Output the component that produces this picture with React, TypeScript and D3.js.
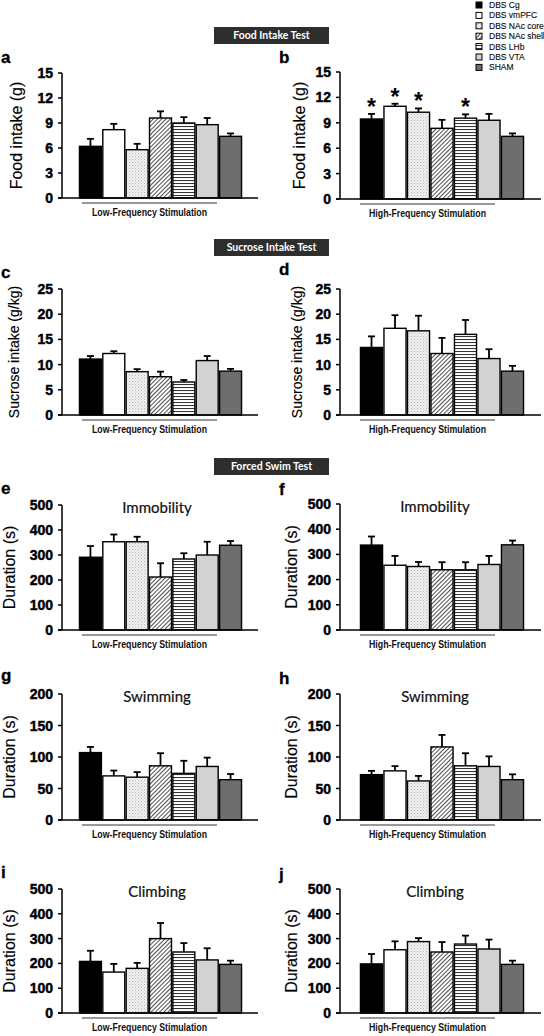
import React from "react";
import * as d3 from "d3";

const groups = ["DBS Cg", "DBS vmPFC", "DBS NAc core", "DBS NAc shell", "DBS LHb", "DBS VTA", "SHAM"];
const groupFills = ["#000000", "#ffffff", "url(#pDots)", "url(#pDiag)", "url(#pHoriz)", "#d2d2d2", "#6e6e6e"];

const foodLowMean = [6.2, 8.2, 5.8, 9.6, 9.0, 8.8, 7.4];
const foodLowSem = [0.9, 0.7, 0.7, 0.8, 0.7, 0.8, 0.35];
const foodHighMean = [9.45, 10.95, 10.25, 8.35, 9.55, 9.3, 7.4];
const foodHighSem = [0.6, 0.3, 0.45, 1.0, 0.45, 0.75, 0.35];
const foodHighSig = [true, true, true, false, true, false, false];

const sucroseLowMean = [11.1, 12.2, 8.6, 7.6, 6.55, 10.8, 8.7];
const sucroseLowSem = [0.6, 0.45, 0.5, 1.0, 0.4, 0.9, 0.45];
const sucroseHighMean = [13.4, 17.2, 16.7, 12.2, 16.0, 11.2, 8.7];
const sucroseHighSem = [2.2, 2.6, 3.0, 3.1, 2.85, 1.85, 1.05];

const immobLowMean = [291, 353, 353, 212, 284, 300, 339];
const immobLowSem = [45, 29, 20, 55, 23, 53, 17];
const immobHighMean = [337, 257, 252, 239, 239, 260, 338];
const immobHighSem = [34, 37, 18, 30, 30, 34, 17];

const swimLowMean = [107, 70, 68, 86, 74, 85, 64];
const swimLowSem = [9, 8.5, 8, 20, 20, 14, 9];
const swimHighMean = [72, 78, 62, 116, 86, 85, 64];
const swimHighSem = [6, 7.5, 8, 19, 20, 16, 8.5];

const climbLowMean = [208, 165, 180, 300, 246, 214, 196];
const climbLowSem = [43, 33, 22, 63, 36, 47, 15];
const climbHighMean = [198, 255, 288, 246, 278, 258, 196];
const climbHighSem = [40, 34, 14, 40, 34, 38, 15];

const foodTicks = [0, 3, 6, 9, 12, 15];
const sucroseTicks = [0, 5, 10, 15, 20, 25];
const durTicks = [0, 100, 200, 300, 400, 500];
const swimTicks = [0, 50, 100, 150, 200];

const sectionTitles = ["Food Intake Test", "Sucrose Intake Test", "Forced Swim Test"];
const lowLabel = "Low-Frequency Stimulation";
const highLabel = "High-Frequency Stimulation";

type Panel = {
  letter: string;
  mean: number[];
  sem: number[];
  sig?: boolean[];
  ticks: number[];
  yLabel: string;
  yLabelSize: number;
  title?: string;
  stim: string;
  side: 0 | 1;
  top: number;
  zero: number;
  letterY: number;
  yLabX: number;
};

const panels: Panel[] = [
  { letter: "a", mean: foodLowMean, sem: foodLowSem, ticks: foodTicks, yLabel: "Food intake (g)", yLabelSize: 16, stim: lowLabel, side: 0, top: 73, zero: 198, letterY: 63, yLabX: 22 },
  { letter: "b", mean: foodHighMean, sem: foodHighSem, sig: foodHighSig, ticks: foodTicks, yLabel: "Food intake (g)", yLabelSize: 16, stim: highLabel, side: 1, top: 72, zero: 199, letterY: 63, yLabX: 305 },
  { letter: "c", mean: sucroseLowMean, sem: sucroseLowSem, ticks: sucroseTicks, yLabel: "Sucrose intake (g/kg)", yLabelSize: 14, stim: lowLabel, side: 0, top: 289, zero: 415, letterY: 278, yLabX: 19 },
  { letter: "d", mean: sucroseHighMean, sem: sucroseHighSem, ticks: sucroseTicks, yLabel: "Sucrose intake (g/kg)", yLabelSize: 14, stim: highLabel, side: 1, top: 289, zero: 415, letterY: 275, yLabX: 302 },
  { letter: "e", mean: immobLowMean, sem: immobLowSem, ticks: durTicks, yLabel: "Duration (s)", yLabelSize: 16, title: "Immobility", stim: lowLabel, side: 0, top: 505, zero: 630, letterY: 494, yLabX: 15 },
  { letter: "f", mean: immobHighMean, sem: immobHighSem, ticks: durTicks, yLabel: "Duration (s)", yLabelSize: 16, title: "Immobility", stim: highLabel, side: 1, top: 504, zero: 630, letterY: 495, yLabX: 297 },
  { letter: "g", mean: swimLowMean, sem: swimLowSem, ticks: swimTicks, yLabel: "Duration (s)", yLabelSize: 16, title: "Swimming", stim: lowLabel, side: 0, top: 694, zero: 820, letterY: 681, yLabX: 15 },
  { letter: "h", mean: swimHighMean, sem: swimHighSem, ticks: swimTicks, yLabel: "Duration (s)", yLabelSize: 16, title: "Swimming", stim: highLabel, side: 1, top: 694, zero: 820, letterY: 684, yLabX: 297 },
  { letter: "i", mean: climbLowMean, sem: climbLowSem, ticks: durTicks, yLabel: "Duration (s)", yLabelSize: 16, title: "Climbing", stim: lowLabel, side: 0, top: 889, zero: 1013, letterY: 878, yLabX: 15 },
  { letter: "j", mean: climbHighMean, sem: climbHighSem, ticks: durTicks, yLabel: "Duration (s)", yLabelSize: 16, title: "Climbing", stim: highLabel, side: 1, top: 889, zero: 1013, letterY: 880, yLabX: 297 },
];

const sideLayout = [
  { axisX: 62, xEnd: 258, barL: 79, barR: 242, letterX: 1 },
  { axisX: 340, xEnd: 541, barL: 360, barR: 524, letterX: 279 },
];

const sectionBoxes = [
  { y: 27 },
  { y: 239 },
  { y: 458 },
];

const ARIAL = "Arial, 'Liberation Sans', Helvetica, sans-serif";
const LATO = "Lato, 'Open Sans', sans-serif";

function ChartPanel({ p }: { p: Panel }) {
  const L = sideLayout[p.side];
  const yMax = p.ticks[p.ticks.length - 1];
  const y = d3.scaleLinear().domain([0, yMax]).range([p.zero, p.top]);
  const x = d3.scaleBand<string>().domain(groups).range([L.barL, L.barR]).paddingInner(0.06).paddingOuter(0.02);
  const bw = x.bandwidth();
  const underL = L.axisX + 20;
  const underR = L.axisX + 155;
  const midY = (p.top + p.zero) / 2;
  return (
    <g>
      <text x={L.letterX} y={p.letterY} fontFamily={ARIAL} fontWeight="bold" fontSize={17} stroke="#000" strokeWidth={0.3}>{p.letter}</text>
      <text
        transform={`translate(${p.yLabX},${midY}) rotate(-90)`}
        textAnchor="middle"
        fontFamily={ARIAL}
        fontSize={p.yLabelSize}
        stroke="#000"
        strokeWidth={0.15}
      >{p.yLabel}</text>
      {p.title && (
        <text x={L.axisX + 95} y={p.top + 8} textAnchor="middle" fontFamily={LATO} fontSize={15} fill="#111" stroke="#111" strokeWidth={0.2}>{p.title}</text>
      )}
      {groups.map((g, i) => {
        const x0 = x(g) as number;
        const yTop = y(p.mean[i]);
        const yErr = y(p.mean[i] + p.sem[i]);
        const cx = x0 + bw / 2;
        return (
          <g key={g}>
            <line x1={cx} x2={cx} y1={yTop} y2={yErr} stroke="#000" strokeWidth={1.8} />
            <line x1={cx - 3.5} x2={cx + 3.5} y1={yErr} y2={yErr} stroke="#000" strokeWidth={1.8} />
            <rect x={x0} y={yTop} width={bw} height={p.zero - yTop} fill={groupFills[i]} stroke="#000" strokeWidth={1.4} />
            {p.sig && p.sig[i] && (
              <text x={cx} y={yErr + 1} textAnchor="middle" fontFamily={ARIAL} fontWeight="bold" fontSize={23}>*</text>
            )}
          </g>
        );
      })}
      {/* y axis */}
      <line x1={L.axisX} x2={L.axisX} y1={p.top} y2={p.zero} stroke="#000" strokeWidth={1.5} />
      {p.ticks.map((t) => (
        <g key={t}>
          <line x1={L.axisX - 4} x2={L.axisX} y1={y(t)} y2={y(t)} stroke="#000" strokeWidth={1.5} />
          <text x={L.axisX - 9} y={y(t) + 5} textAnchor="end" fontFamily={ARIAL} fontWeight="bold" fontSize={14} stroke="#000" strokeWidth={0.45}>{t}</text>
        </g>
      ))}
      {/* x axis */}
      <line x1={L.axisX - 4} x2={L.xEnd} y1={p.zero} y2={p.zero} stroke="#000" strokeWidth={1.5} />
      <line x1={underL} x2={underR} y1={p.zero + 5} y2={p.zero + 5} stroke="#333" strokeWidth={1} />
      <text
        x={(underL + underR) / 2}
        y={p.zero + 18}
        textAnchor="middle"
        fontFamily={ARIAL}
        fontWeight="bold"
        fontSize={10}
        textLength={p.side === 0 ? 115 : 117}
        lengthAdjust="spacingAndGlyphs"
        fill="#111"
      >{p.stim}</text>
    </g>
  );
}

export default function App() {
  return (
    <svg width={544} height={1036} style={{ position: "absolute", left: 0, top: 0, background: "#fff" }}>
      <defs>
        <pattern id="pDots" width={3} height={3} patternUnits="userSpaceOnUse">
          <rect width={3} height={3} fill="#f0f0f0" />
          <rect x={0} y={0} width={1} height={1} fill="#b8b8b8" />
          <rect x={1.5} y={1.5} width={1} height={1} fill="#cfcfcf" />
        </pattern>
        <pattern id="pDiag" width={3} height={3} patternUnits="userSpaceOnUse" patternTransform="rotate(45)">
          <rect width={3} height={3} fill="#fff" />
          <line x1={0} y1={0} x2={0} y2={3} stroke="#222" strokeWidth={1.6} />
        </pattern>
        <pattern id="pHoriz" width={4} height={3} patternUnits="userSpaceOnUse">
          <rect width={4} height={3} fill="#fff" />
          <line x1={0} y1={0.5} x2={4} y2={0.5} stroke="#333" strokeWidth={1.1} />
        </pattern>
      </defs>
      <rect width={544} height={1036} fill="#fff" />
      {sectionTitles.map((t, i) => (
        <g key={t}>
          <rect x={214} y={sectionBoxes[i].y} width={115} height={17} fill="#2e2e2e" />
          <text x={271.5} y={sectionBoxes[i].y + 12} textAnchor="middle" fontFamily={LATO} fontWeight="bold" fontSize={10.5} fill="#fff">{t}</text>
        </g>
      ))}
      {/* legend */}
      {groups.map((g, i) => (
        <g key={g}>
          <rect x={476} y={2 + i * 10.4} width={6} height={6} fill={groupFills[i]} stroke="#000" strokeWidth={1} />
          <text x={489} y={8 + i * 10.4} fontFamily={ARIAL} fontSize={8.5} fill="#111" stroke="#111" strokeWidth={0.15}>{g}</text>
        </g>
      ))}
      {panels.map((p) => (
        <ChartPanel key={p.letter} p={p} />
      ))}
    </svg>
  );
}
